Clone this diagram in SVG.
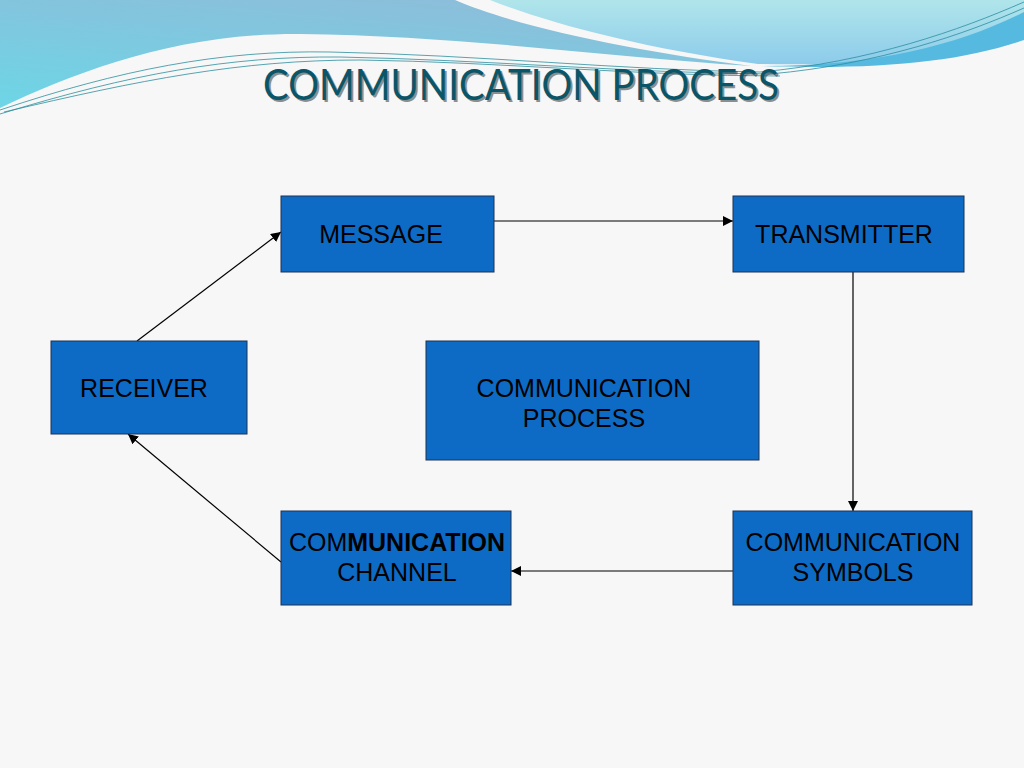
<svg xmlns="http://www.w3.org/2000/svg" width="1024" height="768" viewBox="0 0 1024 768">
  <defs>
    <linearGradient id="gLeft" x1="0.6" y1="0" x2="0" y2="1">
      <stop offset="0" stop-color="#8CBEDA"/>
      <stop offset="1" stop-color="#6CD6E6"/>
    </linearGradient>
    <linearGradient id="gRight" x1="0" y1="0" x2="0" y2="1">
      <stop offset="0" stop-color="#B0E5EA"/>
      <stop offset="1" stop-color="#8CCBEB"/>
    </linearGradient>
    <marker id="arr" viewBox="0 0 10 10" refX="10" refY="5" markerWidth="10" markerHeight="10" markerUnits="userSpaceOnUse" orient="auto">
      <path d="M0,0 L10,5 L0,10 Z" fill="#000"/>
    </marker>
    <style>
      .box { fill: #0E6BC5; stroke: #1B3354; stroke-width: 1; }
      .lbl { font-family: "Liberation Sans", Arial, sans-serif; font-size: 25px; fill: #000; text-anchor: middle; }
      .b { font-weight: bold; }
      .conn { stroke: #000; stroke-width: 1.2; fill: none; marker-end: url(#arr); }
      .wire { fill: none; stroke: #2C8E9E; stroke-width: 0.8; }
      .ttl { font-family: Lato, "Open Sans", sans-serif; font-size: 42px; text-anchor: middle; }
    </style>
  </defs>

  <rect width="1024" height="768" fill="#F7F7F7"/>

  <g id="background-waves">
    <path d="M0,0 H455 C520,28 640,52 752,66 C600,56 460,36 300,34 C180,33 80,70 0,108 Z" fill="url(#gLeft)"/>
    <path d="M490,0 H1024 V38 C960,58 870,66 758,64 C640,48 545,22 490,0 Z" fill="url(#gRight)"/>
    <path d="M760,66 C880,66 960,44 1024,12 V40 C960,62 880,70 760,66 Z" fill="#56B9DF"/>
    <path class="wire" d="M0,110 C120,70 220,50 330,52 C480,55 620,70 760,72 C870,62 960,30 1024,2"/>
    <path class="wire" d="M0,114 C130,74 230,56 340,57 C490,60 630,73 770,74 C880,64 965,34 1024,8"/>
    <path class="wire" d="M4,112 C140,80 240,60 360,60 C500,62 640,76 780,76"/>
  </g>

  <g id="title">
    <text class="ttl" x="523" y="102" textLength="516" lengthAdjust="spacingAndGlyphs" fill="#1E2A2E" opacity="0.5">COMMUNICATION PROCESS</text>
    <text class="ttl" x="521" y="100" textLength="516" lengthAdjust="spacingAndGlyphs" fill="#0B5568">COMMUNICATION PROCESS</text>
  </g>

  <g id="connectors">
    <line class="conn" x1="494" y1="221" x2="733" y2="221"/>
    <line class="conn" x1="853" y1="272" x2="853" y2="511"/>
    <line class="conn" x1="733" y1="571" x2="511" y2="571"/>
    <line class="conn" x1="281" y1="562" x2="128" y2="434"/>
    <line class="conn" x1="137" y1="341" x2="281" y2="232"/>
  </g>

  <g id="message">
    <rect class="box" x="281" y="196" width="213" height="76"/>
    <text class="lbl" x="381" y="243">MESSAGE</text>
  </g>

  <g id="transmitter">
    <rect class="box" x="733" y="196" width="231" height="76"/>
    <text class="lbl" x="844" y="243">TRANSMITTER</text>
  </g>

  <g id="receiver">
    <rect class="box" x="51" y="341" width="196" height="93"/>
    <text class="lbl" x="144" y="397">RECEIVER</text>
  </g>

  <g id="communication-process">
    <rect class="box" x="426" y="341" width="333" height="119"/>
    <text class="lbl" x="584" y="397">COMMUNICATION</text>
    <text class="lbl" x="584" y="427">PROCESS</text>
  </g>

  <g id="communication-channel">
    <rect class="box" x="281" y="511" width="230" height="94"/>
    <text class="lbl" x="397" y="551">COM<tspan class="b">MUNICATION</tspan></text>
    <text class="lbl" x="397" y="581">CHANNEL</text>
  </g>

  <g id="communication-symbols">
    <rect class="box" x="733" y="511" width="239" height="94"/>
    <text class="lbl" x="853" y="551">COMMUNICATION</text>
    <text class="lbl" x="853" y="581">SYMBOLS</text>
  </g>
</svg>
